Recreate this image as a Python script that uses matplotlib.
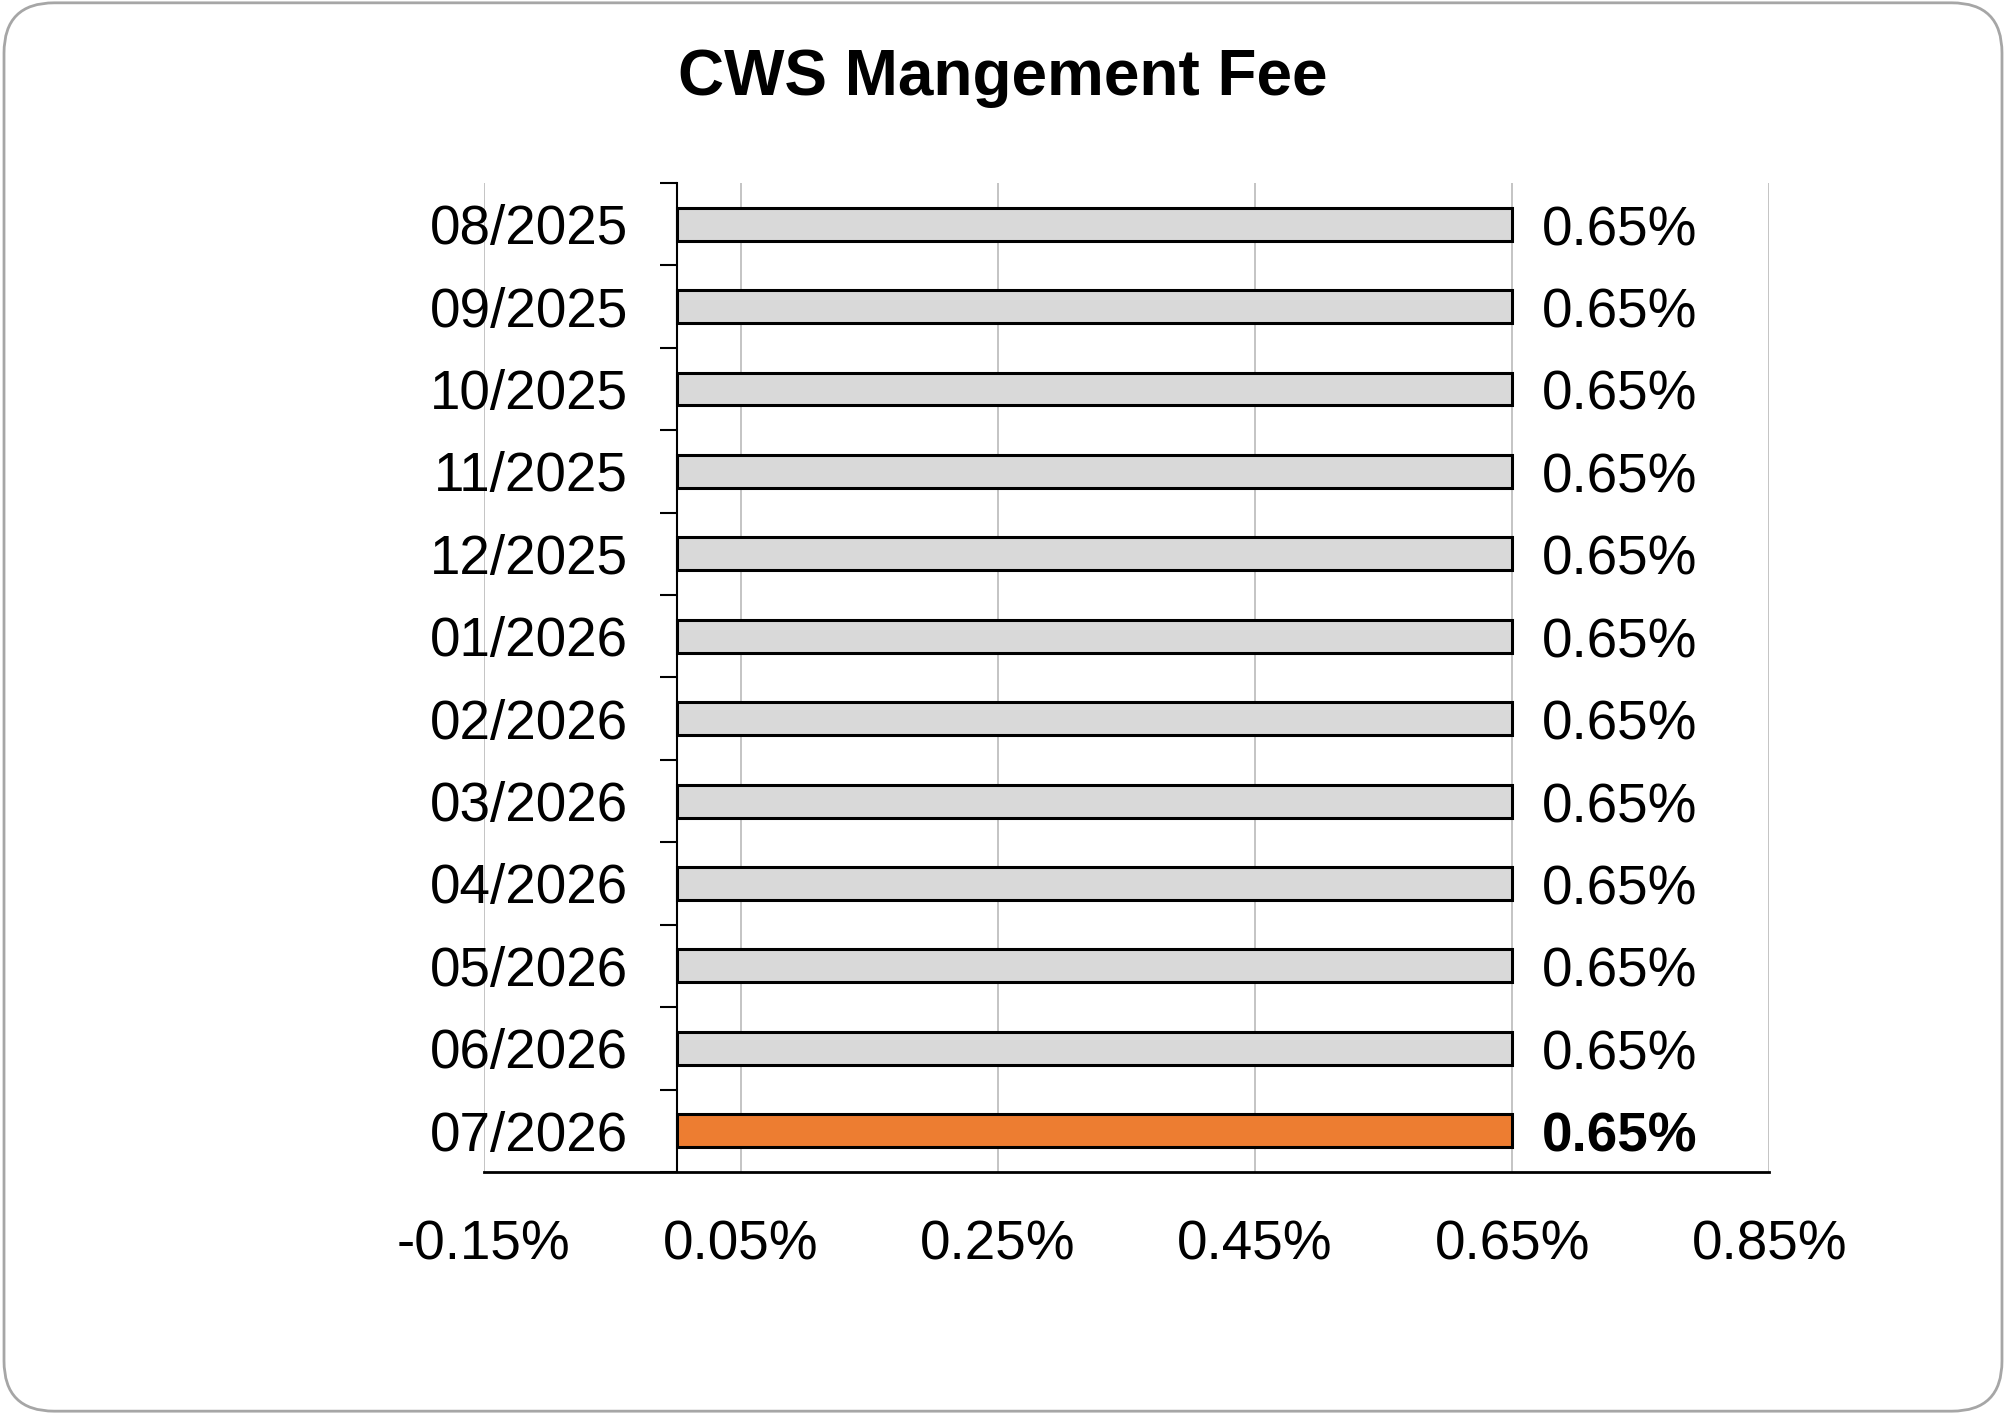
import numpy as np
import matplotlib
matplotlib.use('Agg')
import matplotlib.pyplot as plt
from matplotlib.patches import FancyBboxPatch
from matplotlib.ticker import FixedLocator

plt.rcParams['font.family'] = ['Liberation Sans', 'DejaVu Sans']

# data
months = ['08/2025', '09/2025', '10/2025', '11/2025', '12/2025', '01/2026',
          '02/2026', '03/2026', '04/2026', '05/2026', '06/2026', '07/2026']
fees = [0.65, 0.65, 0.65, 0.65, 0.65, 0.65, 0.65, 0.65, 0.65, 0.65, 0.65, 0.65]
x_ticks = [-0.15, 0.05, 0.25, 0.45, 0.65, 0.85]

fs = 39.5

fig = plt.figure(figsize=(20.06, 14.14), dpi=100)
ax = fig.add_axes([0.2411, 0.1712, 0.641, 0.6994])

# spine position first (it resets the ticks)
for s in ['top', 'right']:
    ax.spines[s].set_visible(False)
ax.spines['left'].set_position(('data', 0))
ax.spines['left'].set_linewidth(1.5)
ax.spines['bottom'].set_linewidth(2)
ax.spines['left'].set_zorder(4)

ypos = np.arange(len(months))
colors = ['#D9D9D9'] * (len(months) - 1) + ['#ED7D31']
ax.barh(ypos, fees, height=0.4, color=colors, edgecolor='black', linewidth=2.2, zorder=3)

ax.set_xlim(-0.15, 0.85)
ax.set_ylim(len(months) - 0.5, -0.5)
ax.set_xticks(x_ticks)
ax.set_xticklabels(['%.2f%%' % v for v in x_ticks])
ax.set_yticks(ypos)
ax.set_yticklabels(months)
ax.yaxis.set_minor_locator(FixedLocator(np.arange(-0.5, len(months), 1.0)))
ax.tick_params(axis='y', which='major', length=0, pad=35, labelsize=fs)
ax.tick_params(axis='y', which='minor', length=12, width=1.5, direction='out')
ax.tick_params(axis='x', length=0, pad=34, labelsize=fs)

ax.grid(axis='x', color='#BFBFBF', linewidth=1.3, zorder=0)
ax.set_axisbelow(True)

for i, v in enumerate(fees):
    bold = (i == len(fees) - 1)
    ax.annotate('%.2f%%' % v, xy=(v, ypos[i]), xytext=(21, -5), textcoords='offset points',
                ha='left', va='center', fontsize=fs,
                fontweight='bold' if bold else 'normal')

fig.text(0.4997, 0.945, 'CWS Mangement Fee', ha='center', va='center',
         fontsize=46, fontweight='bold')

border = FancyBboxPatch((0.002, 0.002), 0.996, 0.996, boxstyle='round,pad=0,rounding_size=0.025',
                        transform=fig.transFigure, facecolor='none', edgecolor='#A6A6A6',
                        linewidth=2, mutation_aspect=2006 / 1414)
fig.patches.append(border)

fig.savefig('out.png', dpi=100)
